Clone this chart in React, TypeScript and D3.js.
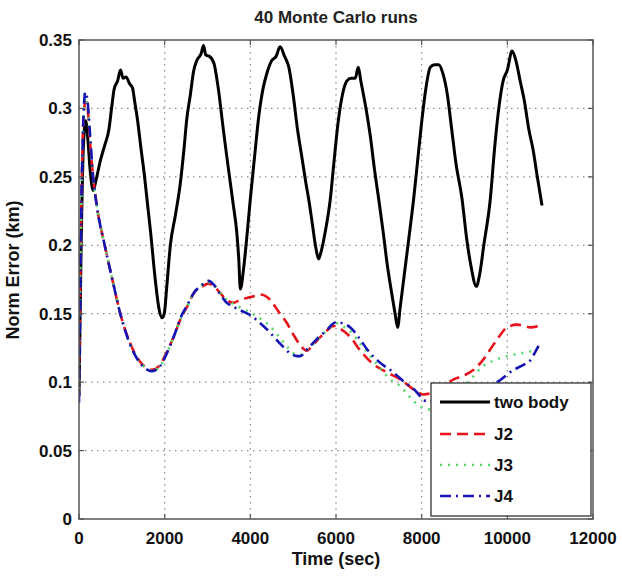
import React from "react";
import * as d3 from "d3";

const title = "40 Monte Carlo runs";
const xLabel = "Time (sec)";
const yLabel = "Norm Error (km)";
const xTicks = [0, 2000, 4000, 6000, 8000, 10000, 12000];
const yTicks = [0, 0.05, 0.1, 0.15, 0.2, 0.25, 0.3, 0.35];
const yTickLabels = ["0", "0.05", "0.1", "0.15", "0.2", "0.25", "0.3", "0.35"];
const seriesNames = ["two body", "J2", "J3", "J4"];

const twoBody: [number, number][] = [
  [0, 0.09], [50, 0.2], [100, 0.27], [155, 0.291], [200, 0.28], [260, 0.255], [330, 0.24],
  [400, 0.248], [500, 0.262], [600, 0.273], [700, 0.285], [760, 0.3], [820, 0.314], [900, 0.32],
  [970, 0.328], [1030, 0.322], [1100, 0.323], [1180, 0.318], [1250, 0.315], [1300, 0.305],
  [1360, 0.293], [1450, 0.27], [1520, 0.253], [1600, 0.23], [1670, 0.21], [1780, 0.175],
  [1860, 0.155], [1937, 0.147], [1990, 0.15], [2050, 0.17], [2132, 0.2], [2250, 0.222],
  [2364, 0.245], [2450, 0.27], [2519, 0.293], [2600, 0.31], [2674, 0.327], [2750, 0.335],
  [2850, 0.34], [2907, 0.346], [2960, 0.339], [3050, 0.338], [3150, 0.333], [3250, 0.315],
  [3372, 0.284], [3450, 0.265], [3527, 0.247], [3600, 0.23], [3682, 0.21], [3730, 0.19],
  [3766, 0.168], [3850, 0.185], [3930, 0.21], [4000, 0.234], [4100, 0.265], [4200, 0.295],
  [4300, 0.315], [4380, 0.325], [4500, 0.335], [4600, 0.338], [4694, 0.345], [4800, 0.338],
  [4900, 0.33], [5000, 0.31], [5100, 0.285], [5200, 0.265], [5300, 0.245], [5361, 0.234],
  [5450, 0.215], [5530, 0.198], [5595, 0.19], [5650, 0.195], [5750, 0.21], [5868, 0.234],
  [5950, 0.26], [6050, 0.29], [6150, 0.31], [6250, 0.32], [6350, 0.322], [6450, 0.322],
  [6520, 0.33], [6580, 0.32], [6700, 0.3], [6800, 0.28], [6900, 0.255], [6996, 0.234],
  [7100, 0.21], [7200, 0.185], [7300, 0.165], [7380, 0.15], [7439, 0.14], [7500, 0.155],
  [7600, 0.18], [7700, 0.205], [7813, 0.234], [7900, 0.26], [8000, 0.29], [8100, 0.315],
  [8200, 0.33], [8300, 0.332], [8400, 0.332], [8500, 0.325], [8600, 0.31], [8700, 0.285],
  [8800, 0.26], [8942, 0.234], [9050, 0.205], [9150, 0.185], [9276, 0.17], [9350, 0.178],
  [9450, 0.2], [9603, 0.234], [9700, 0.27], [9800, 0.3], [9900, 0.32], [10000, 0.328],
  [10111, 0.342], [10200, 0.335], [10300, 0.32], [10400, 0.305], [10500, 0.285],
  [10600, 0.27], [10700, 0.25], [10810, 0.229],
];

const j2: [number, number][] = [
  [0, 0.1], [50, 0.22], [100, 0.29], [150, 0.305], [200, 0.3], [260, 0.275], [330, 0.25],
  [420, 0.228], [600, 0.2], [800, 0.172], [964, 0.15], [1200, 0.128], [1400, 0.116],
  [1600, 0.11], [1704, 0.109], [1900, 0.113], [2050, 0.122], [2209, 0.133], [2400, 0.148],
  [2522, 0.155], [2700, 0.166], [2832, 0.169], [3026, 0.172], [3150, 0.17], [3300, 0.165],
  [3450, 0.16], [3610, 0.158], [3750, 0.16], [3922, 0.1615], [4100, 0.163], [4233, 0.164],
  [4350, 0.163], [4467, 0.16], [4650, 0.152], [4856, 0.143], [5000, 0.135], [5167, 0.127],
  [5323, 0.123], [5450, 0.127], [5634, 0.133], [5800, 0.138], [5945, 0.141], [6100, 0.139],
  [6334, 0.133], [6568, 0.123], [6879, 0.113], [7200, 0.107], [7502, 0.102], [7891, 0.093],
  [8046, 0.091], [8300, 0.093], [8500, 0.097], [8746, 0.102], [9000, 0.105], [9213, 0.109],
  [9400, 0.115], [9603, 0.124], [9800, 0.133], [9993, 0.14], [10226, 0.142], [10400, 0.141],
  [10537, 0.14], [10731, 0.141],
];

const j3: [number, number][] = [
  [0, 0.095], [50, 0.22], [100, 0.29], [150, 0.308], [200, 0.302], [260, 0.277], [330, 0.25],
  [420, 0.228], [600, 0.2], [800, 0.172], [964, 0.15], [1200, 0.127], [1400, 0.115],
  [1600, 0.11], [1704, 0.108], [1900, 0.112], [2050, 0.121], [2209, 0.133], [2400, 0.148],
  [2522, 0.155], [2700, 0.166], [2832, 0.17], [3026, 0.173], [3150, 0.171], [3300, 0.165],
  [3450, 0.16], [3610, 0.157], [3800, 0.154], [3999, 0.151], [4156, 0.148], [4467, 0.1407],
  [4700, 0.132], [4856, 0.126], [5090, 0.12], [5167, 0.12], [5300, 0.123], [5478, 0.128],
  [5634, 0.133], [5790, 0.138], [5900, 0.141], [6023, 0.143], [6150, 0.141], [6334, 0.137],
  [6568, 0.128], [6879, 0.116], [7268, 0.102], [7502, 0.097], [7700, 0.09], [7969, 0.082],
  [8200, 0.08], [8500, 0.085], [8900, 0.095], [9200, 0.104], [9370, 0.11], [9700, 0.116],
  [9993, 0.119], [10300, 0.121], [10537, 0.1225], [10690, 0.125],
];

const j4: [number, number][] = [
  [0, 0.085], [50, 0.22], [100, 0.29], [147, 0.312], [200, 0.305], [260, 0.28], [330, 0.25],
  [420, 0.228], [600, 0.2], [800, 0.172], [964, 0.15], [1200, 0.127], [1400, 0.115],
  [1600, 0.109], [1704, 0.108], [1900, 0.112], [2050, 0.121], [2209, 0.133], [2400, 0.149],
  [2522, 0.156], [2700, 0.166], [2832, 0.17], [3026, 0.174], [3150, 0.171], [3300, 0.164],
  [3450, 0.158], [3610, 0.155], [3800, 0.152], [3999, 0.149], [4233, 0.143], [4467, 0.136],
  [4700, 0.128], [4934, 0.121], [5090, 0.119], [5167, 0.119], [5300, 0.123], [5478, 0.129],
  [5634, 0.134], [5790, 0.138], [5900, 0.142], [6023, 0.144], [6150, 0.143], [6334, 0.14],
  [6568, 0.131], [6724, 0.124], [7000, 0.115], [7346, 0.107], [7600, 0.1], [7813, 0.095],
  [8125, 0.086], [8300, 0.086], [8600, 0.088], [9000, 0.092], [9400, 0.096], [9759, 0.1],
  [10148, 0.109], [10400, 0.113], [10537, 0.116], [10650, 0.122], [10770, 0.129],
];

const seriesData = [twoBody, j2, j3, j4];
const seriesColors = ["#000000", "#e8121a", "#55d96a", "#1414b4"];
const seriesDash = ["none", "11,6", "2,6", "11,5,2,5"];
const seriesWidth = [3, 2.6, 2.6, 2.6];

const W = 622;
const H = 577;
const L = 79, R = 593, T = 40, B = 519;
const FONT = "'Liberation Sans', Arial, Helvetica, sans-serif";

export default function App() {
  const x = d3.scaleLinear().domain([0, 12000]).range([L, R]);
  const y = d3.scaleLinear().domain([0, 0.35]).range([B, T]);
  const line = d3
    .line<[number, number]>()
    .x((d) => x(d[0]))
    .y((d) => y(d[1]))
    .curve(d3.curveMonotoneX);

  const legX = 431, legY = 383, legW = 160, legH = 133;
  const rows = [402, 434, 465, 496];

  return (
    <svg width={W} height={H} style={{ position: "absolute", left: 0, top: 0, background: "#fff" }}>
      <rect x={0} y={0} width={W} height={H} fill="#fff" />
      <defs>
        <clipPath id="plotclip">
          <rect x={L} y={T} width={R - L} height={B - T} />
        </clipPath>
      </defs>
      {xTicks.slice(1, -1).map((t) => (
        <line key={"gx" + t} x1={x(t)} x2={x(t)} y1={T} y2={B} stroke="#8a8a8a" strokeWidth={1.2} strokeDasharray="1.5,4.5" />
      ))}
      {yTicks.slice(1, -1).map((t) => (
        <line key={"gy" + t} x1={L} x2={R} y1={y(t)} y2={y(t)} stroke="#8a8a8a" strokeWidth={1.2} strokeDasharray="1.5,4.5" />
      ))}
      <g clipPath="url(#plotclip)">
        {seriesData.map((d, i) => (
          <path
            key={"s" + i}
            d={line(d) || ""}
            fill="none"
            stroke={seriesColors[i]}
            strokeWidth={seriesWidth[i]}
            strokeDasharray={seriesDash[i]}
            strokeLinejoin="round"
          />
        ))}
      </g>
      <rect x={L} y={T} width={R - L} height={B - T} fill="none" stroke="#555" strokeWidth={1.5} />
      {xTicks.map((t) => (
        <g key={"tx" + t}>
          <line x1={x(t)} x2={x(t)} y1={B} y2={B - 5} stroke="#555" strokeWidth={1.2} />
          <line x1={x(t)} x2={x(t)} y1={T} y2={T + 5} stroke="#555" strokeWidth={1.2} />
          <text x={x(t)} y={544} textAnchor="middle" fontFamily={FONT} fontWeight="bold" fontSize={17} fill="#111">
            {t}
          </text>
        </g>
      ))}
      {yTicks.map((t, i) => (
        <g key={"ty" + t}>
          <line x1={L} x2={L + 5} y1={y(t)} y2={y(t)} stroke="#555" strokeWidth={1.2} />
          <line x1={R} x2={R - 5} y1={y(t)} y2={y(t)} stroke="#555" strokeWidth={1.2} />
          <text x={72} y={y(t)} dy="0.35em" textAnchor="end" fontFamily={FONT} fontWeight="bold" fontSize={17} fill="#111">
            {yTickLabels[i]}
          </text>
        </g>
      ))}
      <rect x={legX} y={legY} width={legW} height={legH} fill="#fff" stroke="#333" strokeWidth={1.3} />
      {seriesNames.map((n, i) => (
        <g key={"lg" + i}>
          <line
            x1={440}
            x2={490}
            y1={rows[i]}
            y2={rows[i]}
            stroke={seriesColors[i]}
            strokeWidth={seriesWidth[i]}
            strokeDasharray={seriesDash[i]}
          />
          <text x={494} y={rows[i]} dy="0.35em" fontFamily={FONT} fontWeight="bold" fontSize={17} fill="#111">
            {n}
          </text>
        </g>
      ))}
      <text x={(L + R) / 2} y={23} textAnchor="middle" fontFamily={FONT} fontWeight="bold" fontSize={17} fill="#222">
        {title}
      </text>
      <text x={(L + R) / 2} y={565} textAnchor="middle" fontFamily={FONT} fontWeight="bold" fontSize={18} fill="#111">
        {xLabel}
      </text>
      <text
        transform={`translate(19,270) rotate(-90)`}
        textAnchor="middle"
        fontFamily={FONT}
        fontWeight="bold"
        fontSize={18}
        fill="#111"
      >
        {yLabel}
      </text>
    </svg>
  );
}
